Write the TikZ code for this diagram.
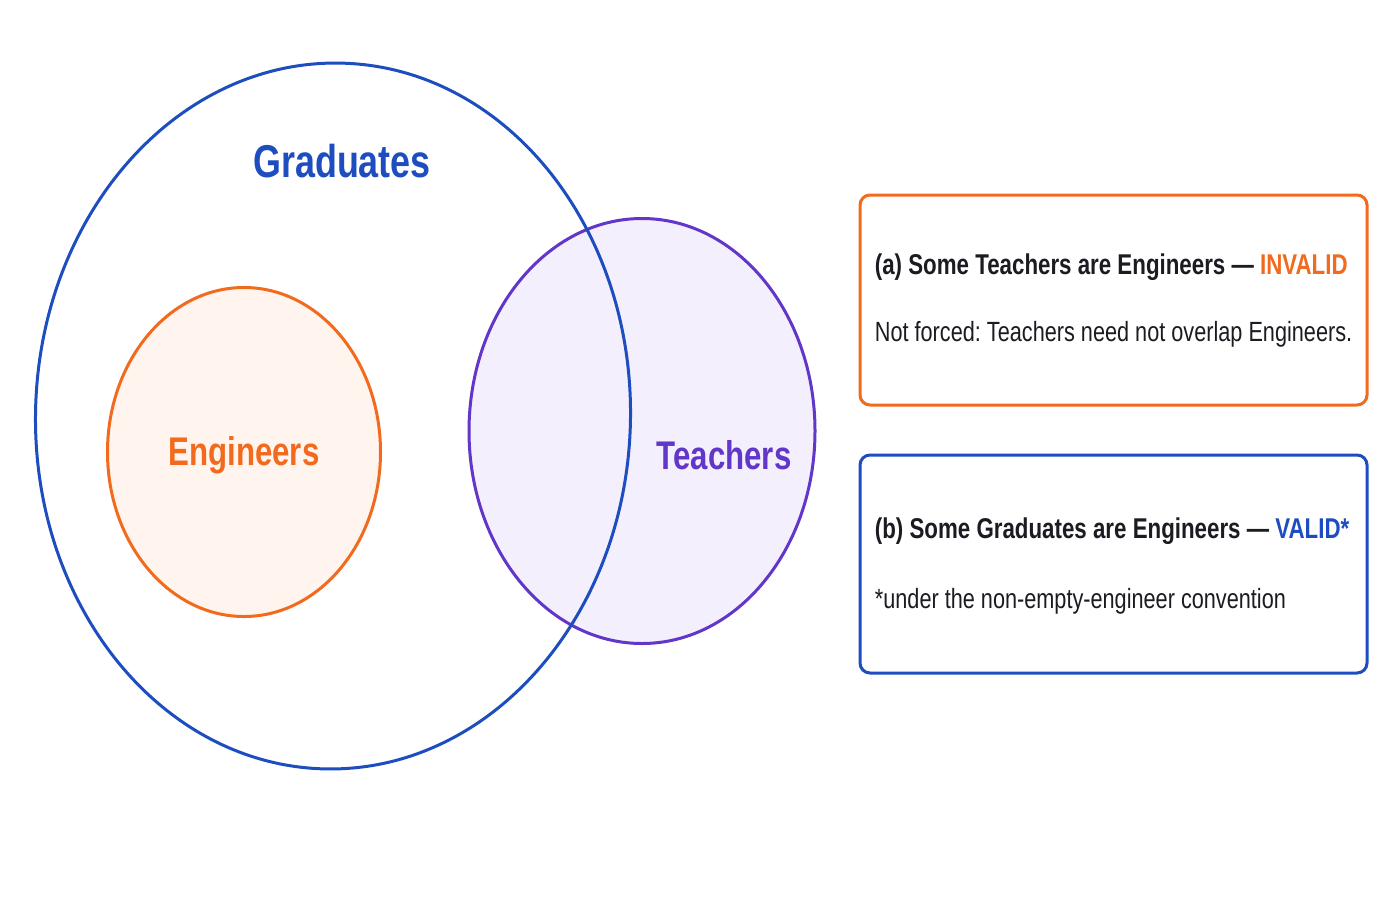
\documentclass[tikz,border=0pt]{standalone}
\usepackage{fontspec}
\setmainfont{Liberation Sans}
\newfontfamily\vennfont{Liberation Sans}[FakeStretch=0.78]
\usepackage{tikz}
\usetikzlibrary{shapes, positioning}
\definecolor{gradblue}{HTML}{1D4DBF}
\definecolor{engorange}{HTML}{F26A1E}
\definecolor{engfill}{HTML}{FFF5EE}
\definecolor{teachpurple}{HTML}{6236C8}
\definecolor{teachfill}{HTML}{F4EFFC}
\definecolor{inktext}{HTML}{1B1B22}
\tikzstyle{set}=[ellipse, line width=1.5pt, inner sep=0pt]
\tikzstyle{setname}=[font=\vennfont\bfseries\fontsize{20}{24}\selectfont]
\tikzstyle{verdict}=[draw, line width=1.5pt, rounded corners=5pt,
    minimum width=253.5pt, minimum height=105pt]
\tikzstyle{claim}=[right, inner sep=0pt, text=inktext,
    font=\vennfont\bfseries\fontsize{14.3}{17}\selectfont]
\tikzstyle{note}=[right, inner sep=0pt, text=inktext,
    font=\vennfont\fontsize{13.9}{16}\selectfont]
\def\txtpad{16}

\begin{document}
\frenchspacing
\begin{tikzpicture}[x=0.5pt, y=-0.5pt]
    \useasboundingbox[fill=white] (0,0) rectangle (1400,900);
    \node (teach) [set, draw=teachpurple, fill=teachfill,
        minimum width=173pt, minimum height=212.5pt] at (642,431) {};
    \node (eng) [set, draw=engorange, fill=engfill,
        minimum width=136.5pt, minimum height=164.5pt] at (244,452) {};
    \node (grad) [set, draw=gradblue, rotate=-1.4,
        minimum width=297.5pt, minimum height=353pt] at (333,416) {};
    \node (gradname) [setname, text=gradblue, font=\vennfont\bfseries\fontsize{23}{27}\selectfont]
        at (342,161) {Graduates};
    \node (engname) [setname, text=engorange] at (244,455) {Engineers};
    \node (teachname) [setname, text=teachpurple] at (724,455) {Teachers};
    % verdict boxes
    \node (boxa) [verdict, draw=engorange] at (1113.5,300) {};
    \node (boxb) [verdict, draw=gradblue, minimum height=109pt] at (1113.5,564) {};
    \path (boxa.west)+(\txtpad,-33) node (claima) [claim]
        {(a) Some Teachers are Engineers — \textcolor{engorange}{INVALID}};
    \path (boxa.west)+(\txtpad,34) node (notea) [note]
        {Not forced: Teachers need not overlap Engineers.};
    \path (boxb.west)+(\txtpad,-33) node (claimb) [claim]
        {(b) Some Graduates are Engineers — \textcolor{gradblue}{VALID*}};
    \path (boxb.west)+(\txtpad,37) node (noteb) [note]
        {*under the non-empty-engineer convention};
\end{tikzpicture}
\end{document}
